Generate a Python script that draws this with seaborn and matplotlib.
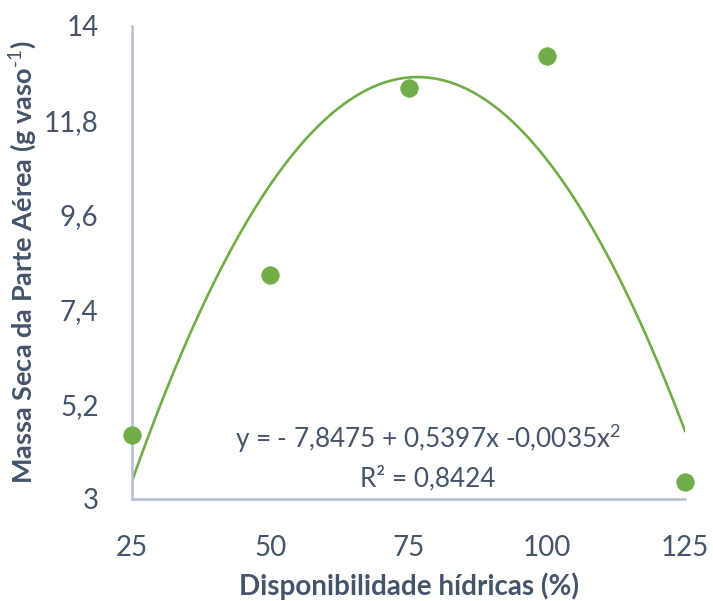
import numpy as np
import pandas as pd
import matplotlib
matplotlib.use("Agg")
import matplotlib.pyplot as plt
import seaborn as sns

# dados
disponibilidade = [25, 50, 75, 100, 125]
massa_seca = [4.49, 8.21, 12.56, 13.30, 3.40]
y_ticks = [3, 5.2, 7.4, 9.6, 11.8, 14]
y_tick_labels = ["3", "5,2", "7,4", "9,6", "11,8", "14"]
x_ticks = [25, 50, 75, 100, 125]
equacao = "y = - 7,8475 + 0,5397x -0,0035x$^{2}$"
r2 = "R² = 0,8424"

df = pd.DataFrame({"x": disponibilidade, "y": massa_seca})

sns.set_style("white")
plt.rcParams["font.family"] = ["Lato", "DejaVu Sans"]
plt.rcParams["mathtext.fontset"] = "custom"
plt.rcParams["mathtext.rm"] = "Lato"
plt.rcParams["mathtext.bf"] = "Lato:bold"

texto = "#44546A"
verde = "#70AD47"
eixo = "#B4C0D3"

fig = plt.figure(figsize=(7.13, 6.01), dpi=100)
ax = fig.add_axes([0.185, 0.170, 0.776, 0.787])

# linha de tendência polinomial (ordem 2)
sns.regplot(data=df, x="x", y="y", order=2, ci=None, scatter=False, truncate=True,
            line_kws={"color": verde, "lw": 1.9}, ax=ax)
sns.scatterplot(data=df, x="x", y="y", s=160, color=verde, edgecolor=verde,
                linewidth=0.5, ax=ax, clip_on=False, zorder=5)

ax.set_xlim(25, 125)
ax.set_ylim(3, 14)
ax.set_xticks(x_ticks)
ax.set_yticks(y_ticks)
ax.set_yticklabels(y_tick_labels)
ax.tick_params(axis="both", length=0, labelsize=20, colors=texto)
ax.tick_params(axis="x", pad=26)
ax.tick_params(axis="y", pad=24)

for s in ["top", "right"]:
    ax.spines[s].set_visible(False)
for s in ["left", "bottom"]:
    ax.spines[s].set_color(eixo)
    ax.spines[s].set_linewidth(1.8)

ax.set_xlabel("Disponibilidade hídricas (%)", fontsize=20, fontweight="bold",
              color=texto, labelpad=8)
ax.set_ylabel("Massa Seca da Parte Aérea (g vaso$^{\\mathbf{\\text{-1}}}$)", fontsize=19.5,
              fontweight="bold", color=texto)
ax.yaxis.set_label_coords(-0.17, 0.5)

ax.text(0.535, 0.128, equacao, transform=ax.transAxes, ha="center", va="center",
        fontsize=18.8, color=texto)
ax.text(0.535, 0.042, r2, transform=ax.transAxes, ha="center", va="center",
        fontsize=18.8, color=texto)

fig.savefig("out.png", dpi=100)
